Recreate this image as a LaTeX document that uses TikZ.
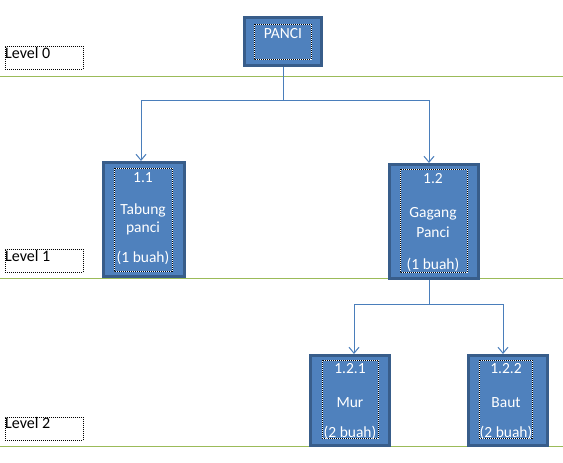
\documentclass[tikz,border=0pt]{standalone}
\usepackage{fontspec}
\setmainfont{Carlito}
\usetikzlibrary{arrows.meta}

\definecolor{boxfill}{HTML}{4F81BD}
\definecolor{boxline}{HTML}{385D8A}
\definecolor{conncol}{HTML}{4A7EBB}
\definecolor{levelcol}{HTML}{9BBB59}

\tikzset{
  partbox/.style={draw=boxline, fill=boxfill, line width=3pt, inner sep=0pt},
  innerbox/.style={draw=black, line width=0.8pt, dash pattern=on 1pt off 1pt},
  lbl/.style={text=white, anchor=base, inner sep=0pt, font=\fontsize{15.5}{18}\selectfont},
  lvlbox/.style={draw=black, line width=0.8pt, dash pattern=on 1pt off 1pt, fill=white,
    minimum width=78pt, minimum height=23pt, anchor=north west, inner sep=0pt},
  lvltext/.style={anchor=base west, inner sep=0pt, font=\fontsize{16}{19}\selectfont},
  levelline/.style={draw=levelcol, line width=1pt},
  conn/.style={draw=conncol, line width=1pt},
  >={Straight Barb[length=6pt,width=10pt]}
}

\begin{document}
\begin{tikzpicture}[x=1pt,y=-1pt]
\useasboundingbox (0,0) rectangle (563,463);

% level lines
\draw[levelline] (0,76) -- (563,76);
\draw[levelline] (0,278) -- (563,278);
\draw[levelline] (0,446) -- (563,446);

% level labels
\node[lvlbox] (lv0) at (5,46) {};
\node[lvltext] (lv0t) at (5,58) {Level 0};
\node[lvlbox] (lv1) at (5,249) {};
\node[lvltext] (lv1t) at (5,261) {Level 1};
\node[lvlbox] (lv2) at (5,417) {};
\node[lvltext] (lv2t) at (5,428) {Level 2};

% boxes
\node[partbox, minimum width=77pt, minimum height=48pt] (panci) at (283,41.5) {};
\draw[white, line width=0.8pt] (254,24) rectangle (311,59);
\draw[innerbox] (254,24) rectangle (311,59);
\node[lbl] (pancit) at (283,38) {PANCI};

\node[partbox, minimum width=81pt, minimum height=114pt] (b11) at (144,219.5) {};
\draw[white, line width=0.8pt] (114,168) rectangle (172,271);
\draw[innerbox] (114,168) rectangle (172,271);
\node[lbl] (b11a) at (143,182) {1.1};
\node[lbl] (b11b) at (143,214) {Tabung};
\node[lbl] (b11c) at (143,232) {panci};
\node[lbl] (b11d) at (143,262) {(1 buah)};

\node[partbox, minimum width=89pt, minimum height=114pt] (b12) at (434,221.5) {};
\draw[white, line width=0.8pt] (400,169) rectangle (467,272);
\draw[innerbox] (400,169) rectangle (467,272);
\node[lbl] (b12a) at (433,183) {1.2};
\node[lbl] (b12b) at (433,217) {Gagang};
\node[lbl] (b12c) at (433,237) {Panci};
\node[lbl] (b12d) at (433,269) {(1 buah)};

\node[partbox, minimum width=79pt, minimum height=90pt] (b121) at (350,400.5) {};
\draw[white, line width=0.8pt] (322,360) rectangle (378,438);
\draw[innerbox] (322,360) rectangle (378,438);
\node[lbl] (b121a) at (350,373) {1.2.1};
\node[lbl] (b121b) at (350,407) {Mur};
\node[lbl] (b121c) at (350,437) {(2 buah)};

\node[partbox, minimum width=79pt, minimum height=90pt] (b122) at (508,400.5) {};
\draw[white, line width=0.8pt] (479,360) rectangle (532,438);
\draw[innerbox] (479,360) rectangle (532,438);
\node[lbl] (b122a) at (506,373) {1.2.2};
\node[lbl] (b122b) at (506,407) {Baut};
\node[lbl] (b122c) at (506,437) {(2 buah)};

% connectors
\coordinate (j0) at (283,100);
\coordinate (j1) at (429,304);
\draw[conn] (panci.south) -- (j0);
\draw[conn,->] (j0) -| ([xshift=-3pt]b11.north);
\draw[conn,->] (j0) -| ([xshift=-5pt]b12.north);
\draw[conn] ([xshift=-5pt]b12.south) -- (j1);
\draw[conn,->] (j1) -| ([xshift=4pt]b121.north);
\draw[conn,->] (j1) -| ([xshift=-5pt]b122.north);
\end{tikzpicture}
\end{document}
